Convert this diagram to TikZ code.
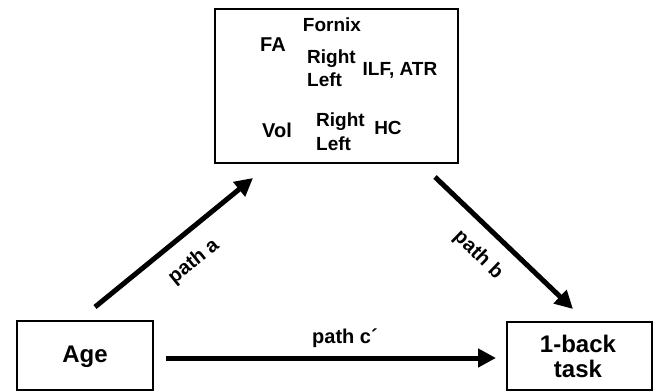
\documentclass[tikz,border=0pt]{standalone}
\usepackage{fontspec}
\setmainfont{Liberation Sans}
\usetikzlibrary{arrows.meta}
\tikzset{
  box/.style={draw, line width=2pt, inner sep=0pt},
  bigarrow/.style={line width=5pt, -{Triangle[length=18pt,width=18pt]}},
  boxtext/.style={font=\bfseries\fontsize{24}{27}\selectfont, align=center, inner sep=0pt},
  intext/.style={font=\bfseries\fontsize{19}{23}\selectfont, align=left, inner sep=0pt},
  pathlabel/.style={font=\bfseries\fontsize{20}{24}\selectfont, inner sep=0pt}
}
\begin{document}
\begin{tikzpicture}[x=1pt,y=-1pt]
\path[use as bounding box] (0,0) rectangle (654,391);
\clip (0,0) rectangle (654,391);
% boxes
\node[box, minimum width=243pt, minimum height=154pt] (top) at (336.5,86) {};
\node[box, minimum width=136pt, minimum height=69pt] (agebox) at (85,355.5) {};
\node[box, minimum width=145pt, minimum height=68pt] (taskbox) at (579.5,356) {};
% box texts
\node[boxtext] (age) at (85,357) {Age};
\node[boxtext] (task) at (578,356) {1-back\\[-2pt]task};
% top box contents
\node[intext] (fornix) at (332,25) {Fornix};
\node[intext, font=\bfseries\fontsize{20}{23}\selectfont] (fa) at (273,45) {FA};
\node[intext, anchor=west] (rl1) at (307,68) {Right\\Left};
\node[intext] (ilf) at (400,70) {ILF, ATR};
\node[intext, font=\bfseries\fontsize{20}{23}\selectfont] (vol) at (277,130) {Vol};
\node[intext, anchor=west] (rl2) at (316,132) {Right\\[1pt]Left};
\node[intext] (hc) at (388,128) {HC};
% arrow end points
\coordinate (aS) at (95,307);
\coordinate (aE) at (253,178);
\coordinate (bS) at (435,177);
\coordinate (bE) at (573,309);
\coordinate (cS) at (166,358);
\coordinate (cE) at (496,358);
\draw[bigarrow] (aS) -- (aE);
\draw[bigarrow] (bS) -- (bE);
\draw[bigarrow] (cS) -- (cE);
% labels
\node[pathlabel, rotate=39] (pa) at (194,262) {path a};
\node[pathlabel, rotate=-44] (pb) at (478,255) {path b};
\node[pathlabel] (pc) at (345,338) {path c\textasciiacute};
\end{tikzpicture}
\end{document}
